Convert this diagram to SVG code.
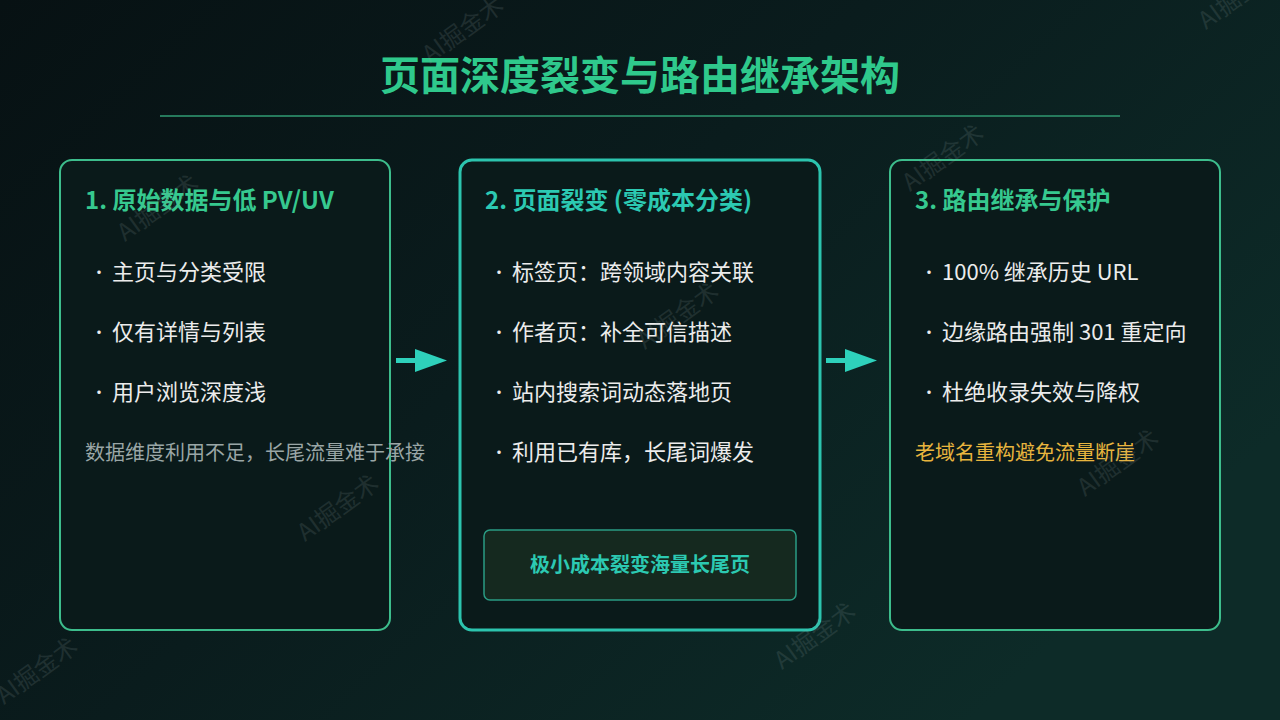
<svg xmlns="http://www.w3.org/2000/svg" width="1280" height="720" viewBox="0 0 1280 720">
<defs>
<linearGradient id="bg" x1="0" y1="0" x2="1" y2="0.6">
<stop offset="0" stop-color="#071113"/>
<stop offset="0.5" stop-color="#0a1c1d"/>
<stop offset="1" stop-color="#0d2b28"/>
</linearGradient>
<style>
text{font-family:"Noto Sans CJK SC","Noto Sans",sans-serif;}
.card{fill:#0a1a1a;stroke:#3dbd8c;stroke-width:2;}
.card2{fill:#0a1a1a;stroke:#2cc4ae;stroke-width:3;}
.h{font-size:24px;font-weight:700;fill:#36c98f;}
.h2{font-size:24px;font-weight:700;fill:#2cc9b2;}
.b{font-size:22px;fill:#ececec;}
.dot{font-size:16px;fill:#ececec;}
.note{font-size:20px;fill:#9aa6a6;}
.warn{font-size:20px;fill:#e8b53e;}
.wm{font-size:24px;fill:#9aaaaa;opacity:0.15;}
.arr{fill:#2ed1bb;}
</style>
</defs>
<rect width="1280" height="720" fill="url(#bg)"/>
<g id="title">
<text x="640" y="90" text-anchor="middle" font-size="40" font-weight="700" fill="#2fc98c">页面深度裂变与路由继承架构</text>
<line x1="160" y1="116" x2="1120" y2="116" stroke="#267a5c" stroke-width="2"/>
</g>
<g id="connectors">
<rect class="arr" x="396" y="358" width="22" height="5"/>
<polygon class="arr" points="415,349 447,360.5 415,372"/>
<rect class="arr" x="826" y="358" width="22" height="5"/>
<polygon class="arr" points="845,349 877,360.5 845,372"/>
</g>
<g id="node1">
<rect class="card" x="60" y="160" width="330" height="470" rx="12"/>
<text class="h" x="85" y="209">1. 原始数据与低 PV/UV</text>
<text class="dot" x="91" y="278">•</text><text class="b" x="112" y="280">主页与分类受限</text>
<text class="dot" x="91" y="338">•</text><text class="b" x="112" y="340">仅有详情与列表</text>
<text class="dot" x="91" y="398">•</text><text class="b" x="112" y="400">用户浏览深度浅</text>
<text class="note" x="85" y="460">数据维度利用不足，长尾流量难于承接</text>
</g>
<g id="node2">
<rect class="card2" x="460" y="160" width="360" height="470" rx="12"/>
<text class="h2" x="485" y="209">2. 页面裂变 (零成本分类)</text>
<text class="dot" x="491" y="278">•</text><text class="b" x="512" y="280">标签页：跨领域内容关联</text>
<text class="dot" x="491" y="338">•</text><text class="b" x="512" y="340">作者页：补全可信描述</text>
<text class="dot" x="491" y="398">•</text><text class="b" x="512" y="400">站内搜索词动态落地页</text>
<text class="dot" x="491" y="458">•</text><text class="b" x="512" y="460">利用已有库，长尾词爆发</text>
<g id="node2-result">
<rect x="484" y="530" width="312" height="70" rx="6" fill="#15291f" stroke="#2a9c84" stroke-width="1.5"/>
<text x="640" y="572" text-anchor="middle" font-size="20" font-weight="700" fill="#2cc9b2">极小成本裂变海量长尾页</text>
</g>
</g>
<g id="node3">
<rect class="card" x="890" y="160" width="330" height="470" rx="12"/>
<text class="h" x="915" y="209">3. 路由继承与保护</text>
<text class="dot" x="921" y="278">•</text><text class="b" x="942" y="280">100% 继承历史 URL</text>
<text class="dot" x="921" y="338">•</text><text class="b" x="942" y="340">边缘路由强制 301 重定向</text>
<text class="dot" x="921" y="398">•</text><text class="b" x="942" y="400">杜绝收录失效与降权</text>
<text class="warn" x="915" y="460">老域名重构避免流量断崖</text>
</g>
<g id="watermarks">
<text class="wm" transform="translate(430,64) rotate(-36)">AI掘金术</text>
<text class="wm" transform="translate(125,242) rotate(-36)">AI掘金术</text>
<text class="wm" transform="translate(910,192) rotate(-36)">AI掘金术</text>
<text class="wm" transform="translate(1206,30) rotate(-36)">AI掘金术</text>
<text class="wm" transform="translate(645,350) rotate(-36)">AI掘金术</text>
<text class="wm" transform="translate(305,542) rotate(-36)">AI掘金术</text>
<text class="wm" transform="translate(4,705) rotate(-36)">AI掘金术</text>
<text class="wm" transform="translate(782,670) rotate(-36)">AI掘金术</text>
<text class="wm" transform="translate(1085,497) rotate(-36)">AI掘金术</text>
</g>
</svg>
